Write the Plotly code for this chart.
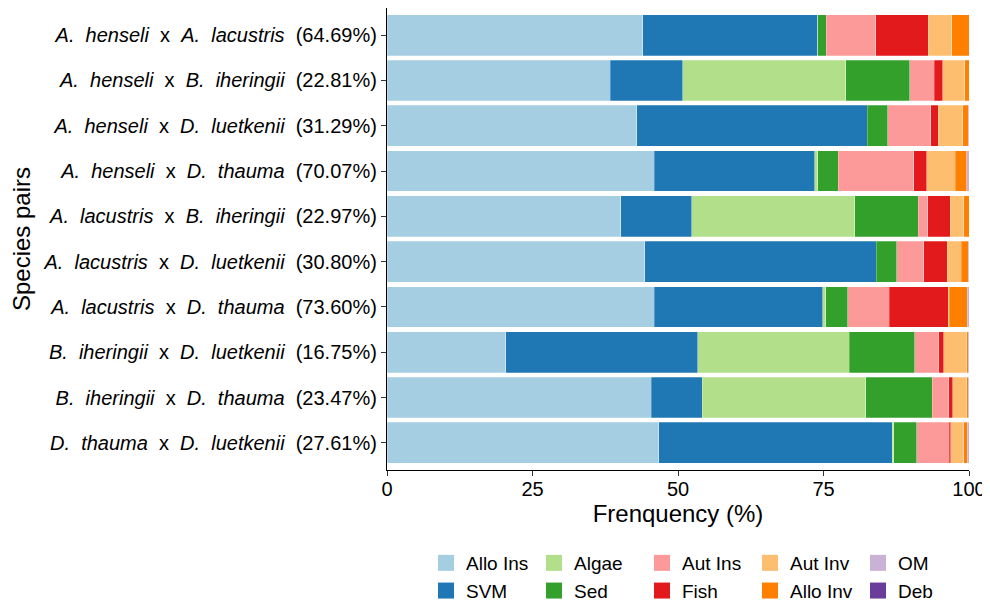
import plotly.graph_objects as go

# ---- data ----
pairs = [
    ("A. henseli", "A. lacustris", "64.69%"),
    ("A. henseli", "B. iheringii", "22.81%"),
    ("A. henseli", "D. luetkenii", "31.29%"),
    ("A. henseli", "D. thauma", "70.07%"),
    ("A. lacustris", "B. iheringii", "22.97%"),
    ("A. lacustris", "D. luetkenii", "30.80%"),
    ("A. lacustris", "D. thauma", "73.60%"),
    ("B. iheringii", "D. luetkenii", "16.75%"),
    ("B. iheringii", "D. thauma", "23.47%"),
    ("D. thauma", "D. luetkenii", "27.61%"),
]
categories = [f"{a} x {b} ({p})" for a, b, p in pairs]

items = ["Allo Ins", "SVM", "Algae", "Sed", "Aut Ins", "Fish", "Aut Inv", "Allo Inv", "OM", "Deb"]
colors = ["#A6CEE3", "#1F78B4", "#B2DF8A", "#33A02C", "#FB9A99",
          "#E31A1C", "#FDBF6F", "#FF7F00", "#CAB2D6", "#6A3D9A"]

# frequency (%) per item, rows follow `categories`
allo_ins = [43.9, 38.4, 42.9, 45.9, 40.2, 44.3, 45.9, 20.4, 45.4, 46.7]
svm      = [30.1, 12.4, 39.6, 27.6, 12.2, 39.8, 29.0, 33.0, 8.8, 40.1]
algae    = [0.0, 28.0, 0.0, 0.5, 28.0, 0.0, 0.5, 26.0, 28.1, 0.3]
sed      = [1.5, 11.0, 3.5, 3.5, 10.9, 3.5, 3.8, 11.3, 11.4, 3.9]
aut_ins  = [8.5, 4.2, 7.4, 13.0, 1.6, 4.6, 7.1, 4.1, 2.8, 5.6]
fish     = [9.0, 1.5, 1.3, 2.2, 3.9, 4.1, 10.1, 0.9, 0.7, 0.3]
aut_inv  = [4.0, 3.8, 4.2, 4.9, 2.3, 2.4, 0.2, 3.9, 2.4, 2.2]
allo_inv = [3.0, 0.7, 1.0, 2.0, 0.9, 1.2, 3.1, 0.3, 0.3, 0.6]
om       = [0.0, 0.0, 0.1, 0.4, 0.0, 0.1, 0.3, 0.1, 0.1, 0.3]
deb      = [0.0, 0.0, 0.0, 0.0, 0.0, 0.0, 0.0, 0.0, 0.0, 0.0]
values = [allo_ins, svm, algae, sed, aut_ins, fish, aut_inv, allo_inv, om, deb]

x_ticks = [0, 25, 50, 75, 100]

# ---- labels ----
SP = "&nbsp;&nbsp;"
def label(a, b, p):
    return f"<i>{a.replace(' ', SP)}</i>{SP}x{SP}<i>{b.replace(' ', SP)}</i>{SP}({p})"
ticktext = [label(a, b, p) for a, b, p in pairs]

FONT = "Liberation Sans, Arial, sans-serif"

# the page body has an 8px margin; size the figure to fill the rest of the window
OFF = 8
W, H = 990 - OFF, 603 - OFF

fig = go.Figure()
for name, col, vals in zip(items, colors, values):
    fig.add_trace(go.Bar(
        y=categories, x=vals, orientation="h", name=name,
        marker=dict(color=col, line=dict(color="rgba(255,255,255,0.5)", width=0.5)),
        showlegend=False,
    ))

# legend entries, laid out column-wise like the original (2 rows x 5 cols)
legend_order = [0, 2, 4, 6, 8, 1, 3, 5, 7, 9]
for rank, idx in enumerate(legend_order):
    fig.add_trace(go.Scatter(
        x=[None], y=[None], mode="markers", name=items[idx],
        marker=dict(symbol="square", size=16, color=colors[idx], line=dict(width=0)),
        legendrank=rank + 1, showlegend=True, hoverinfo="skip",
    ))

fig.update_layout(
    width=W, height=H,
    barmode="stack", bargap=0.1,
    paper_bgcolor="white", plot_bgcolor="white",
    font=dict(family=FONT, size=20, color="black"),
    margin=dict(l=387 - OFF, r=21, t=0, b=603 - 470),
    legend=dict(
        orientation="h", traceorder="normal",
        xref="container", yref="container",
        x=(426 - OFF) / W, y=1 - (544 - OFF) / H, xanchor="left", yanchor="top",
        entrywidth=63, entrywidthmode="pixels",
        font=dict(family=FONT, size=19, color="black"),
        itemclick=False, bgcolor="rgba(0,0,0,0)",
    ),
    xaxis=dict(
        range=[0, 100], tickvals=x_ticks, ticktext=[str(v) for v in x_ticks],
        showline=True, linecolor="black", linewidth=1.3,
        ticks="outside", ticklen=5, tickcolor="#333333", tickwidth=1.2,
        ticklabelstandoff=-4,
        showgrid=False, zeroline=False, automargin=False,
        tickfont=dict(size=20, color="black"),
        title=dict(text="Frenquency (%)", font=dict(size=24, color="black"), standoff=2),
    ),
    yaxis=dict(
        categoryorder="array", categoryarray=categories,
        tickvals=categories, ticktext=ticktext,
        range=[len(categories) - 0.4, -0.6],
        showline=True, linecolor="black", linewidth=1.3,
        ticks="outside", ticklen=5, tickcolor="#333333", tickwidth=1.2,
        showgrid=False, zeroline=False, automargin=False,
        tickfont=dict(size=20, color="black"),
        title=dict(text="Species pairs", font=dict(size=24, color="black"), standoff=10),
    ),
)

fig.write_html("out.html")
